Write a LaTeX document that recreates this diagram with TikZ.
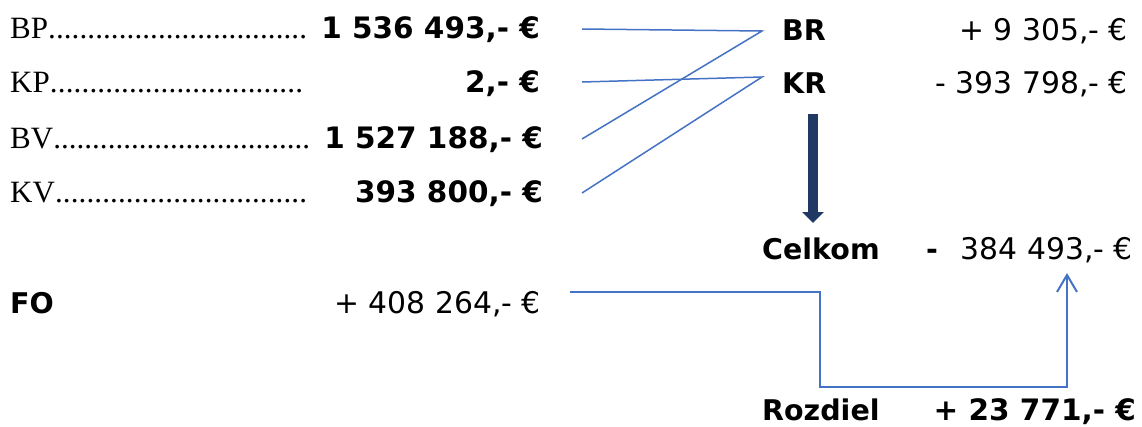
\documentclass[tikz,border=0pt]{standalone}
\usepackage{fontspec}
\setmainfont{Liberation Serif}
\newfontfamily\verd{DejaVu Sans}
\usetikzlibrary{arrows.meta}
\definecolor{lineblue}{HTML}{4472C4}
\definecolor{navy}{HTML}{203864}
\tikzset{
  lbl/.style={inner sep=0pt, anchor=base west, font=\fontsize{31}{36}\selectfont},
  bnum/.style={inner sep=0pt, anchor=base east, font=\verd\bfseries\fontsize{29.5}{34}\selectfont},
  rnum/.style={inner sep=0pt, anchor=base east, font=\verd\fontsize{29.8}{34}\selectfont},
  bword/.style={inner sep=0pt, anchor=base west, font=\verd\bfseries\fontsize{28.5}{34}\selectfont},
  link/.style={lineblue, line width=1.5pt},
  flow/.style={lineblue, line width=2pt},
}
\newcommand{\dotrow}[2]{\hbox to #2{#1\xleaders\hbox{.}\hfill}}
\begin{document}
\begin{tikzpicture}[x=1pt,y=-1pt]
\useasboundingbox (0,0) rectangle (1142,426);
% left column
\node[lbl] (bp) at (10,38) {\dotrow{BP}{297pt}};
\node[lbl] (kp) at (10,92) {\dotrow{KP}{293pt}};
\node[lbl] (bv) at (10,148) {\dotrow{BV}{300pt}};
\node[lbl] (kv) at (10,202) {\dotrow{KV}{297pt}};
\node[bnum] (bpv) at (540,38) {1 536 493,- €};
\node[bnum] (kpv) at (540,92) {2,- €};
\node[bnum] (bvv) at (543,148) {1 527 188,- €};
\node[bnum] (kvv) at (543,202) {393 800,- €};
% right column
\node[bword] (br) at (782,40) {BR};
\node[bword] (kr) at (782,93) {KR};
\node[rnum] (brv) at (1128,40) {+ 9 305,- €};
\node[rnum] (krv) at (1128,93) {- 393 798,- €};
\node[bword] (celk) at (762,259) {Celkom};
\node[bword] (minus) at (926,259) {-};
\node[rnum] (celkv) at (1133,259) {384 493,- €};
\node[bword] (fo) at (10,313) {FO};
\node[rnum] (fov) at (541,313) {+ 408 264,- €};
\node[bword] (roz) at (762,420) {Rozdiel};
\node[bnum] (rozv) at (1136,420) {+ 23 771,- €};
% connector points
\coordinate (bpE) at (582,29);
\coordinate (kpE) at (582,82);
\coordinate (bvE) at (582,139);
\coordinate (kvE) at (582,193);
\coordinate (brW) at (762,31);
\coordinate (krW) at (762,77);
\draw[link] (bpE) -- (brW) -- (bvE);
\draw[link] (kpE) -- (krW) -- (kvE);
% thick arrow
\coordinate (aTop) at (813,114);
\coordinate (aTip) at (813,223);
\draw[navy, line width=10pt, -{Triangle[length=11pt,width=21pt]}] (aTop) -- (aTip);
% flow connector
\coordinate (foE) at (570,292);
\coordinate (cTip) at (1067,273);
\draw[flow, -{Straight Barb[length=17pt,width=20pt,line width=2pt]}] (foE) -- (820,292) -- (820,387) -- (1067,387) -- (cTip);
\end{tikzpicture}
\end{document}
